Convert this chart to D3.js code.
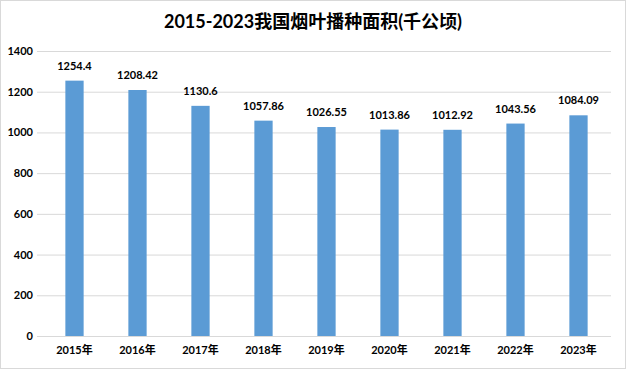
<!DOCTYPE html>
<html><head><meta charset="utf-8">
<script src="https://cdn.jsdelivr.net/npm/d3@7"></script>
<style>body{margin:0;background:#fff;}svg{display:block;}</style>
</head><body>
<svg id="c" width="626" height="369"></svg>
<script>
const categories = ["2015年","2016年","2017年","2018年","2019年","2020年","2021年","2022年","2023年"];
const values = [1254.4, 1208.42, 1130.6, 1057.86, 1026.55, 1013.86, 1012.92, 1043.56, 1084.09];
const valueLabels = ["1254.4","1208.42","1130.6","1057.86","1026.55","1013.86","1012.92","1043.56","1084.09"];
const yTicks = [0,200,400,600,800,1000,1200,1400];
const title = "2015-2023我国烟叶播种面积(千公顷)";

const svg = d3.select("#c");
const W=626,H=369;
const font = "Lato, 'Noto Sans CJK SC', sans-serif";
svg.append("rect").attr("x",0.5).attr("y",0.5).attr("width",W-1).attr("height",H-1)
  .attr("fill","#fff").attr("stroke","#d9d9d9");

const x = d3.scaleBand().domain(categories).range([43,610]).paddingInner(0.71).paddingOuter(0.355);
const y = d3.scaleLinear().domain([0,1400]).range([336,51]);

// gridlines
svg.append("g").selectAll("line").data(yTicks.filter(d=>d>0)).join("line")
  .attr("x1",37).attr("x2",611).attr("y1",d=>y(d)+0.5).attr("y2",d=>y(d)+0.5)
  .attr("stroke","#d9d9d9").attr("stroke-width",1);

// y axis labels
const ya = svg.append("g").attr("transform","translate(37,0)")
  .call(d3.axisLeft(y).tickValues(yTicks).tickSize(0).tickPadding(4).tickFormat(d3.format("d")));
ya.select(".domain").remove();
ya.selectAll("text").attr("font-family",font).attr("font-size",11).attr("font-weight","bold").attr("fill","#000");

// bars
svg.append("g").selectAll("rect").data(values).join("rect")
  .attr("x",(d,i)=>x(categories[i])).attr("width",x.bandwidth())
  .attr("y",d=>y(d)).attr("height",d=>y(0)-y(d)).attr("fill","#5b9bd5");

// x axis
const xa = svg.append("g").attr("transform","translate(0,336)")
  .call(d3.axisBottom(x).tickSize(0).tickPadding(10));
xa.select(".domain").attr("stroke","#d9d9d9").attr("d","M37,0.5H611");
xa.selectAll("text").attr("font-family",font).attr("font-size",11).attr("font-weight","bold").attr("fill","#000");

// value labels
svg.append("g").selectAll("text").data(values).join("text")
  .attr("x",(d,i)=>x(categories[i])+x.bandwidth()/2).attr("y",d=>y(d)-11)
  .attr("text-anchor","middle").attr("font-family",font).attr("font-size",11).attr("font-weight","bold")
  .attr("fill","#000").text((d,i)=>valueLabels[i]);

svg.append("text").attr("x",313).attr("y",28).attr("text-anchor","middle")
  .attr("font-family",font).attr("font-size",18).attr("font-weight","bold").attr("fill","#000").text(title);
</script>
</body></html>
